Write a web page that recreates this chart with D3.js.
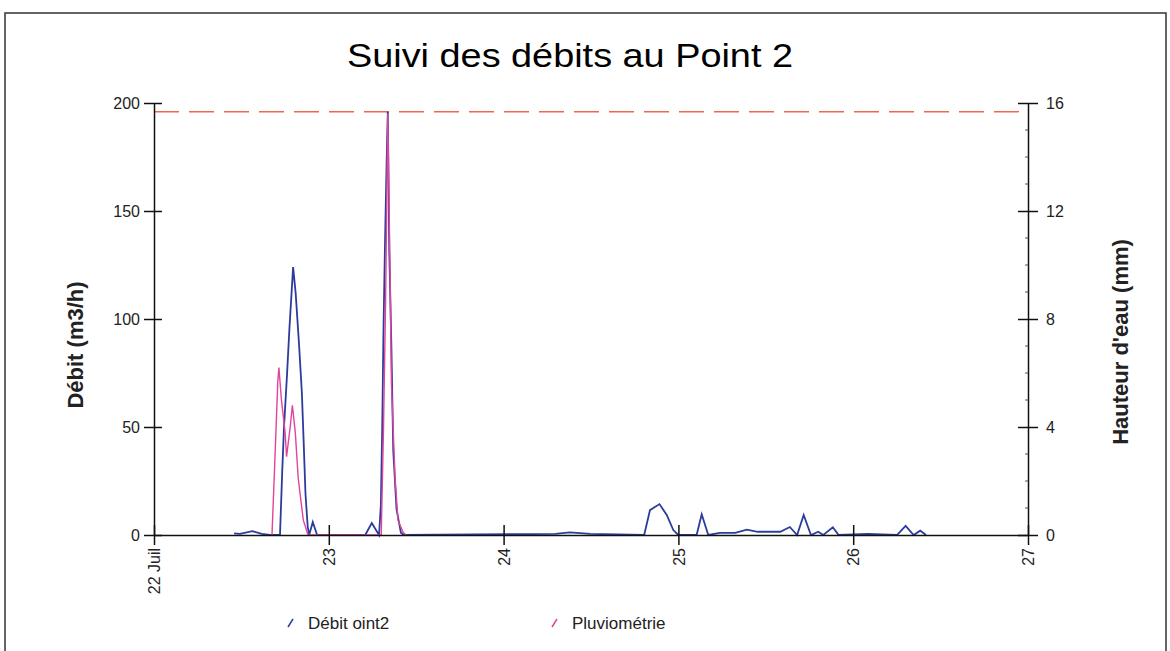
<!DOCTYPE html>
<html>
<head>
<meta charset="utf-8">
<script src="https://cdn.jsdelivr.net/npm/d3@7"></script>
<style>
  body { margin: 0; background: #fff; }
  svg { font-family: "Liberation Sans", Arial, sans-serif; }
</style>
</head>
<body>
<div id="chart"></div>
<script>
// hours counted from 22 Juil 00:00
let debitHours = [11, 11.8, 13.5, 14.8, 15.9, 17.3, 17.6, 17.85, 18.26, 18.6, 19.1, 19.45, 19.9, 20.3,
	20.55, 20.8, 21.1, 21.3, 21.8, 22.4, 29.0, 29.9, 30.9, 31.15, 31.35, 31.5, 31.7, 31.95, 32.1,
	32.3, 32.6, 32.85, 33.3, 33.9, 34.3, 55.1, 57.1, 59.9, 67.3, 68.1, 69.4, 70.4, 71.3, 72.0, 74.5,
	75.2, 76.1, 77.7, 79.8, 81.4, 82.9, 86.0, 87.3, 88.3, 89.2, 90.2, 91.2, 91.9, 93.2, 94.0, 98.0,
	102.0, 103.2, 104.3, 105.2, 106.0];
let debitValues = [0.8, 0.5, 1.8, 0.5, 0, 0, 29, 50, 74, 96, 124, 112, 89, 66,
	43, 19, 4, 0, 6, 0, 0, 5.5, 0, 14, 53, 93, 132, 174, 196,
	132, 86, 39, 12, 1, 0, 0.5, 1.2, 0.5, 0, 11.5, 14.3, 9.3, 2.3, 0, 0,
	9.6, 0, 1, 1, 2.5, 1.5, 1.5, 3.7, 0, 9.3, 0, 1.5, 0, 3.6, 0, 0.5,
	0, 4.2, 0, 2, 0];

let pluvioHours = [16.2, 16.6, 17.0, 17.15, 17.5, 18.0, 18.2, 18.7, 19.0, 19.4, 19.8, 20.5, 21.15,
	31.2, 31.5, 31.8, 32.1, 32.4, 32.6, 33.1, 33.5, 34.2, 34.6];
let pluvioValues = [0, 2.8, 5.7, 6.2, 5.0, 3.8, 2.9, 4.0, 4.8, 3.8, 2.1, 0.55, 0,
	0, 3.8, 8.7, 15.6, 9.9, 5.6, 2.1, 0.55, 0.1, 0];

let seuilDebit = 196;

let dayTicks = [0, 24, 48, 72, 96, 120];
let dayLabels = ['22 Juil', '23', '24', '25', '26', '27'];
let debitTicks = [0, 50, 100, 150, 200];
let pluvioTicks = [0, 4, 8, 12, 16];

let seriesNames = ['Débit oint2', 'Pluviométrie'];
let seriesColors = ['#2c3c9c', '#e2449a'];

let width = 1170;
let height = 651;
let margin = {left: 154, right: 142, top: 103, bottom: 116};

let xScale = d3.scaleLinear()
		.domain([0, 120])
		.range([margin.left, width - margin.right]);

let yLeft = d3.scaleLinear()
		.domain([0, 200])
		.range([height - margin.bottom, margin.top]);

let yRight = d3.scaleLinear()
		.domain([0, 16])
		.range([height - margin.bottom, margin.top]);

let svg = d3.select('#chart')
		.append('svg')
		.attr('width', width)
		.attr('height', height);

// page frame
svg.append('rect')
		.attr('x', 5)
		.attr('y', 13)
		.attr('width', 1161)
		.attr('height', 700)
		.attr('fill', 'none')
		.attr('stroke', '#333')
		.attr('stroke-width', 1.5);

svg.append('text')
		.attr('x', 570)
		.attr('y', 67)
		.attr('text-anchor', 'middle')
		.attr('font-size', 34)
		.attr('textLength', 446)
		.attr('lengthAdjust', 'spacingAndGlyphs')
		.text('Suivi des débits au Point 2');

// threshold line
svg.append('line')
		.attr('x1', xScale(0))
		.attr('x2', xScale(120))
		.attr('y1', yLeft(seuilDebit))
		.attr('y2', yLeft(seuilDebit))
		.attr('stroke', '#f0664e')
		.attr('stroke-width', 1.5)
		.attr('stroke-dasharray', '25,10');

let debitData = debitHours.map((h, i) => ({h: h, v: debitValues[i]}));
let pluvioData = pluvioHours.map((h, i) => ({h: h, v: pluvioValues[i]}));

let debitLine = d3.line()
		.x(d => xScale(d.h))
		.y(d => yLeft(d.v));

let pluvioLine = d3.line()
		.x(d => xScale(d.h))
		.y(d => yRight(d.v));

svg.append('path')
		.attr('d', debitLine(debitData))
		.attr('fill', 'none')
		.attr('stroke', seriesColors[0])
		.attr('stroke-width', 1.8);

svg.append('path')
		.attr('d', pluvioLine(pluvioData))
		.attr('fill', 'none')
		.attr('stroke', seriesColors[1])
		.attr('stroke-width', 1.4);

// axes
function styleAxis(g) {
	g.attr('font-family', null);
	g.select('.domain').attr('stroke', '#111').attr('stroke-width', 1.5);
	g.selectAll('.tick line').attr('stroke', '#111').attr('stroke-width', 1.5);
	g.selectAll('.tick text').attr('fill', '#222').attr('font-size', 16);
}

let leftAxis = svg.append('g')
		.attr('transform', `translate(${margin.left},0)`)
		.call(d3.axisLeft(yLeft).tickValues(debitTicks).tickSize(10).tickSizeOuter(0).tickPadding(4));
leftAxis.selectAll('.tick line').attr('x1', 8);
styleAxis(leftAxis);

let rightAxis = svg.append('g')
		.attr('transform', `translate(${width - margin.right},0)`)
		.call(d3.axisRight(yRight).tickValues(pluvioTicks).tickSize(10).tickSizeOuter(0).tickPadding(8));
rightAxis.selectAll('.tick line').attr('x1', -10);
styleAxis(rightAxis);

// small minor ticks on the right axis
rightAxis.selectAll('.minor')
		.data(d3.range(1, 16).filter(v => v % 4 !== 0))
		.enter()
		.append('line')
		.attr('x1', -3)
		.attr('x2', 0)
		.attr('y1', d => yRight(d))
		.attr('y2', d => yRight(d))
		.attr('stroke', '#555');

let bottomAxis = svg.append('g')
		.attr('transform', `translate(0,${height - margin.bottom})`)
		.call(d3.axisBottom(xScale).tickValues(dayTicks).tickFormat((d, i) => dayLabels[i]).tickSize(10).tickSizeOuter(0));
bottomAxis.selectAll('.tick line').attr('y1', -10);
styleAxis(bottomAxis);
bottomAxis.selectAll('.tick text')
		.attr('transform', 'rotate(-90)')
		.attr('text-anchor', 'end')
		.attr('x', -13)
		.attr('y', 0)
		.attr('dy', '0.35em');

// axis titles
svg.append('text')
		.attr('transform', 'translate(83,345) rotate(-90)')
		.attr('text-anchor', 'middle')
		.attr('font-size', 22)
		.attr('font-weight', 'bold')
		.attr('fill', '#222')
		.text('Débit  (m3/h)');

svg.append('text')
		.attr('transform', 'translate(1128,342) rotate(-90)')
		.attr('text-anchor', 'middle')
		.attr('font-size', 22)
		.attr('font-weight', 'bold')
		.attr('fill', '#222')
		.text('Hauteur d\'eau  (mm)');

// legend
let legendX = [288, 552];
let legend = svg.selectAll('.legend')
		.data(seriesNames)
		.enter()
		.append('g')
		.attr('transform', (d, i) => `translate(${legendX[i]},623)`);

legend.append('line')
		.attr('x1', 0)
		.attr('y1', 4)
		.attr('x2', 5)
		.attr('y2', -4)
		.attr('stroke', (d, i) => seriesColors[i])
		.attr('stroke-width', 1.5);

legend.append('text')
		.attr('x', 20)
		.attr('y', 6)
		.attr('font-size', 17)
		.attr('fill', '#222')
		.text(d => d);
</script>
</body>
</html>
